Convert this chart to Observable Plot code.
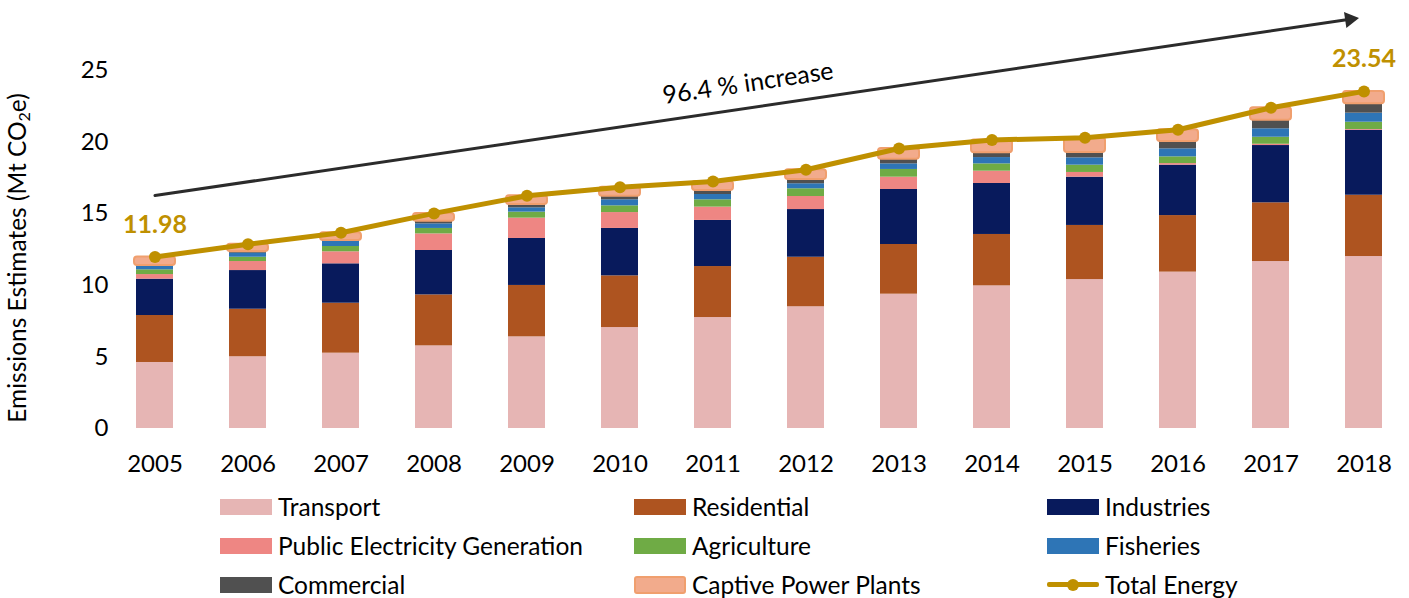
<!DOCTYPE html>
<html>
<head>
<meta charset="utf-8">
<script src="https://cdn.jsdelivr.net/npm/d3@7"></script>
<script src="https://cdn.jsdelivr.net/npm/@observablehq/plot@0.6"></script>
<style>
  body { margin: 0; background: #fff; font-family: Lato, "Open Sans", sans-serif; }
  #chart { width: 1409px; }
  .legend {
    display: grid;
    grid-template-columns: 414px 413px 300px;
    grid-auto-rows: 39px;
    margin: 2px 0 0 220px;
    font-size: 24.5px;
    color: #000;
  }
  .item { display: flex; align-items: center; }
  .sw { width: 52px; height: 16px; margin-right: 6px; box-sizing: border-box; flex: none; }
  .sw.captive { border: 2px solid #F09F6E; border-radius: 3px; background: #F2AB8C; height: 18px; }
  .sw.line { position: relative; height: 16px; }
  .sw.line::before { content: ""; position: absolute; left: 0; right: 0; top: 5.5px; height: 5px; background: #BF9000; border-radius: 2px; }
  .sw.line::after { content: ""; position: absolute; left: 20px; top: 2px; width: 12px; height: 12px; border-radius: 50%; background: #BF9000; }
</style>
</head>
<body>
<div id="chart"></div>
<script>
// Emissions by sector, Mt CO2e
const years = ["2005","2006","2007","2008","2009","2010","2011","2012","2013","2014","2015","2016","2017","2018"];
const transport   = [4.61, 5.01, 5.26, 5.77, 6.40, 7.05, 7.75, 8.50, 9.38, 9.96, 10.40, 10.92, 11.66, 12.01];
const residential = [3.28, 3.32, 3.49, 3.56, 3.59, 3.61, 3.56, 3.46, 3.47, 3.59, 3.78, 3.95, 4.10, 4.28];
const industries  = [2.54, 2.70, 2.75, 3.10, 3.28, 3.31, 3.22, 3.33, 3.84, 3.56, 3.37, 3.52, 4.00, 4.54];
const publicElec  = [0.32, 0.63, 0.84, 1.16, 1.42, 1.11, 0.93, 0.91, 0.86, 0.86, 0.33, 0.11, 0.09, 0.05];
const agriculture = [0.33, 0.30, 0.37, 0.38, 0.42, 0.47, 0.51, 0.54, 0.54, 0.51, 0.51, 0.47, 0.49, 0.51];
const fisheries   = [0.26, 0.28, 0.35, 0.32, 0.30, 0.42, 0.37, 0.35, 0.39, 0.44, 0.51, 0.56, 0.59, 0.63];
const commercial  = [0.05, 0.12, 0.07, 0.19, 0.23, 0.25, 0.28, 0.30, 0.33, 0.33, 0.37, 0.51, 0.60, 0.65];
const captive     = [0.59, 0.51, 0.54, 0.54, 0.61, 0.63, 0.63, 0.68, 0.74, 0.90, 1.03, 0.82, 0.87, 0.87];
const totalEnergy = [11.98, 12.87, 13.67, 15.02, 16.25, 16.85, 17.25, 18.07, 19.55, 20.15, 20.30, 20.86, 22.40, 23.54];

const seriesNames = ["Transport", "Residential", "Industries", "Public Electricity Generation",
  "Agriculture", "Fisheries", "Commercial", "Captive Power Plants"];
const seriesValues = [transport, residential, industries, publicElec, agriculture, fisheries, commercial, captive];
const seriesColors = ["#E6B5B4", "#AE5420", "#081A5C", "#EE8683", "#6FAB45", "#2E75B6", "#505050", "#F2AB8C"];

const yTicks = [0, 5, 10, 15, 20, 25];
const increaseText = "96.4 % increase";
// trend arrow endpoints (year, Mt CO2e)
const trendFrom = { year: "2005", value: 16.27 };
const trendTo = { year: "2018", value: 28.72 };
const trendLabel = { year: "2011", value: 24.09 };

// stacked segments
const rows = [];
years.forEach((year, i) => {
  let base = 0;
  seriesNames.forEach((name, k) => {
    const v = seriesValues[k][i];
    rows.push({ year, series: name, y1: base, y2: base + v });
    base += v;
  });
});
const totals = years.map((year, i) => ({ year, total: totalEnergy[i] }));
const ends = [totals[0], totals[totals.length - 1]];

const gold = "#BF9000";
const isCaptive = d => d.series === "Captive Power Plants";

const chart = Plot.plot({
  width: 1409,
  height: 485,
  marginLeft: 120,
  marginRight: 10,
  marginTop: 70,
  marginBottom: 57,
  style: { fontFamily: "Lato, sans-serif", fontSize: "24px", color: "#000", overflow: "visible", background: "#fff" },
  x: { type: "band", domain: years, paddingInner: 0.6, paddingOuter: 0.142, label: null, tickSize: 0, tickPadding: 26 },
  y: { domain: [0, 25], ticks: yTicks, tickSize: 0, tickPadding: 12, label: null },
  color: { domain: seriesNames, range: seriesColors },
  marks: [
    Plot.barY(rows.filter(d => !isCaptive(d)), { x: "year", y1: "y1", y2: "y2", fill: "series" }),
    Plot.barY(rows.filter(isCaptive), {
      x: "year", y1: "y1", y2: "y2", fill: "#F2AB8C", stroke: "#F09F6E", strokeWidth: 2,
      insetLeft: -2, insetRight: -2, rx: 3
    }),
    Plot.line(totals, { x: "year", y: "total", stroke: gold, strokeWidth: 5 }),
    Plot.dot(totals, { x: "year", y: "total", r: 6, fill: gold }),
    Plot.text(ends, {
      x: "year", y: "total", text: d => d.total.toFixed(2), dy: -32, fill: gold,
      fontWeight: "bold", fontSize: 25, fontFamily: "Lato, sans-serif"
    }),
    Plot.arrow([{ x1: trendFrom.year, y1: trendFrom.value, x2: trendTo.year, y2: trendTo.value }], {
      x1: "x1", y1: "y1", x2: "x2", y2: "y2", stroke: "#2B2B2B", strokeWidth: 3, headLength: 0, insetEnd: 16
    }),
    Plot.dot([trendTo], {
      x: "year", y: "value", symbol: "triangle", r: 6, fill: "#2B2B2B", rotate: 81.6, dx: -14.2, dy: 2.1
    }),
    Plot.text([trendLabel], {
      x: "year", y: "value", text: () => increaseText, rotate: -8.4, dx: 35, fontSize: 25, fill: "#000"
    })
  ]
});

// y-axis title with a subscript
const svg = d3.select(chart);
const title = svg.append("text")
  .attr("transform", "translate(20,258) rotate(-90)")
  .attr("text-anchor", "middle")
  .attr("dominant-baseline", "middle")
  .attr("font-family", "Lato, sans-serif")
  .attr("font-size", 24.5)
  .attr("fill", "#000");
title.append("tspan").text("Emissions Estimates (Mt CO");
title.append("tspan").attr("font-size", 16).attr("dy", 6).text("2");
title.append("tspan").attr("dy", -6).text("e)");

const root = document.getElementById("chart");
root.appendChild(chart);

// legend
const legend = document.createElement("div");
legend.className = "legend";
const entries = seriesNames.map((name, k) => ({ name, color: seriesColors[k], kind: k === 7 ? "captive" : "box" }));
entries.push({ name: "Total Energy", kind: "line" });
for (const e of entries) {
  const item = document.createElement("div");
  item.className = "item";
  const sw = document.createElement("span");
  sw.className = "sw" + (e.kind === "box" ? "" : " " + e.kind);
  if (e.kind === "box") sw.style.background = e.color;
  const label = document.createElement("span");
  label.textContent = e.name;
  item.append(sw, label);
  legend.appendChild(item);
}
root.appendChild(legend);
</script>
</body>
</html>
